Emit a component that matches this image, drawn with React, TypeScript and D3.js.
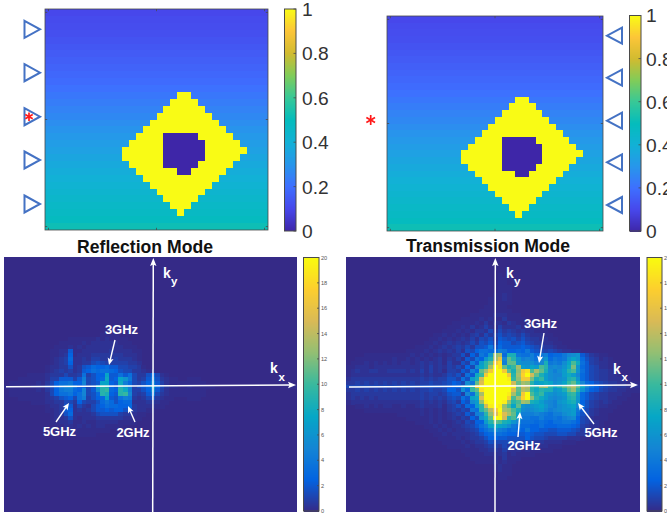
import React from 'react';
import * as d3 from 'd3';

// ---------- colour maps ----------
const parulaNew = ['#3e26a8','#4747eb','#3e6fff','#2796eb','#12b1d6','#04bcbc','#37c897','#80cc59','#d1bb30','#fcc538','#f9fb15'];
const parulaOld = ['#352a87','#0363e1','#1485d4','#06a7c6','#38b99e','#92bf73','#d9ba56','#fcce2e','#f9fb0e'];

// ---------- top maps (row values, 32 x 32 cells) ----------
const gradientRows = [.10,.11,.115,.12,.13,.14,.15,.16,.17,.18,.19,.205,.22,.235,.25,.265,.28,.295,.31,.325,.34,.355,.37,.385,.40,.415,.43,.445,.46,.475,.49,.52];
// [row, first column, column after last]
const diamondSpans = [[12,19,21],[13,18,22],[14,17,23],[15,16,24],[16,15,25],[17,14,26],[18,13,27],[19,12,28],[20,11,29],[21,11,28],[22,12,27],[23,13,26],[24,14,25],[25,15,24],[26,16,23],[27,17,22],[28,18,21],[29,19,20]];
const holeSpans = [[18,17,22],[19,17,23],[20,17,23],[21,17,23],[22,17,22],[23,19,21]];
const topTicks = [0,0.2,0.4,0.6,0.8,1];
const topTickLabels = ['0','0.2','0.4','0.6','0.8','1'];
const axisTicks = [1,16.5,32];
const markerRows = [1,2,3,4,5];

// ---------- bottom maps: 64 x 64 cells, one base-36 level per cell (0 = none, z = full scale) ----------
const reflectionFirstRow = 19;
const reflectionRows = [
'00000000 00000000 00000111 10000000',
'00000000 00000011 11112121 11100000',
'00000000 00001111 12122222 21110000',
'00000000 00011121 21222222 22111000',
'00000000 00112271 12222223 22221100',
'00000000 00112381 22233333 33222100',
'00000000 00123492 23244333 43332100',
'00000000 00123482 23356544 44433200',
'00000000 01223362 36798897 75544310',
'00000000 01234342 378a9aa9 86553321 10',
'00000111 12333533 4a4688h7 7a7a5336 95210000',
'00011111 12447774 7c5689i7 8hfb5347 b6321100 11100',
'01111112 1358aab8 8d567hh8 7ic95468 d7421111 11110',
'11111122 2458cdeb 7856hkj9 7jgc4679 h9532211 21111100 00000000 00000011',
'01111112 1358bcc9 8d57ekl9 8kic4468 e7421111 11110000',
'01111111 1258aab8 ad569kj8 7kld4347 b5321111 11110000',
'00011111 12346785 ac4689h7 6acb3235 63211000 11100',
'00000011 12233553 854469b9 68992223 32110000',
'00000000 01223672 53257 8a9 98893222 21100000',
'00000000 01123782 32357787 88663221 10000000',
'00000000 00123692 22235666 64332110',
'00000000 00122362 12223333 33221100',
'00000000 00112231 12112222 21111000',
'00000000 00011221 21212211 11000000',
'00000000 00001112 11111110',
'00000000 00000011 1111',
];
const transmissionFirstRow = 4;
const transmissionRows = [
'00000000 00000000 00000000 00000000 01',
'00000000 00000000 00000000 00000000 011',
'00000000 00000000 00000000 00000000 011',
'00000000 00000000 00000000 00000000 0111',
'00000000 00000000 00000000 00000000 0111',
'00000000 00000000 00000000 00000000 1121',
'00000000 00000000 00000000 00000001 1121',
'00000000 00000000 00000000 00000001 1111',
'00000000 00000000 00000000 00000011 11100000',
'00000000 00000000 00000000 00000111 11110000',
'00000000 00000000 00000000 00011111 22211100',
'00000000 00000000 00000000 01111212 11311110',
'00000000 00000000 00000001 11112131 22132111 1000',
'00000000 00000000 00000011 12131242 14222312 11100',
'00000000 00000000 00000111 21213325 25343232 21110',
'00000000 00000000 00011212 12134253 46454353 22211000',
'00000000 00000000 00112121 23242546 37656464 33221100',
'00000000 00000000 01121232 32353657 48775675 43322110',
'00000000 00000001 11212323 4353667b 69777787 65433211',
'00000000 00000111 12123232 42658aa9 9cb8898b 76545432 21100000',
'00001111 11111121 21212123 3628 5b9f pq9jjbaa c9bc899b def75321 1',
'00111111 11211212 12123132 42 75a8fj qudnkfcd cadf9bab fhf96431 21',
'01112121 21212212 32323142 264b7gkn vxcnnfee ecdjbcbe hmia7432 211',
'11222122 22222222 32423243 5385ehkq zxnjlqgf hgmkdedf iof97542 211',
'12322332 23333232 42423144 375c9nqv zzvnjpvx mqnjeceg kmfa7543 3211',
'12222222 22222222 32322354 63a7ilvz zzzvkqwz snjgeddg igd97543 3221',
'23333333 33333333 43434466 4a6gjszz zzzylpvv ojlgedef jkf97543 322211',
'33434343 43434343 44544568 75ebntzz zzzzsnqp kghihefh lnid9865 43322111',
'55555555 55555555 66666678 9dglvzzz zzzzynsr lkpqlikn prnida86 54333222',
'33434343 43434343 44544588 6e9lnxzz zzzztnrq kikjjfgj npkfb875 43322111',
'23333333 33333333 43443467 74dakqzz zzzyqmvz mjlgfefg klg97543 322211',
'23232323 33333333 43434356 5a7hitzz zzzwmqwz pkigedef jkf97543 32211',
'12222222 22222222 32323245 386egpyz zzypkmqp jigedcfg ijf86432 3211',
'00112121 22112112 32223134 6498gksy zypmhnfe fghfdcef ghd96432 211',
'00001111 11111111 21212134 354bakn r vzqpmjed efgecdef fgb75321 11',
'00000000 00011111 21212123 4375cdkp tytqnhcc cdcbacce fga65321 1',
'00000000 00000111 11212123 24386fin zzskmgbb aacaabac de854211 1',
'00000000 00000001 11212112 32548 8gk nmjifdaa a9a98aab ba854321',
'00000000 00000000 01121212 2345 7ach ihgeba99 8 8a88899 98743221',
'00000000 00000000 00112121 22345 8ac ecb9a98b 88 776677 7 6532 21',
'00000000 00000000 00011212 22234689 aa988778 76655566 55332 1',
'00000000 00000000 00001111 21233468 87766668 65543333 2221',
'00000000 00000000 00000111 12123346 55555545 43322221 11',
'00000000 00000000 00000011 11212234 43534323 22221110',
'00000000 00000000 00000000 01111223 32422212 11111',
'00000000 00000000 00000000 00111122 22312111 1',
'00000000 00000000 00000000 00011111 21311100',
'00000000 00000000 00000000 00001111 21211',
'00000000 00000000 00000000 00000000 1211',
'00000000 00000000 00000000 00000000 1211',
'00000000 00000000 00000000 00000000 0111',
'00000000 00000000 00000000 00000000 011',
];
const bottomTicks = [0,2,4,6,8,10,12,14,16,18,20];

// levels are an eye-read perceptual scale: 1 barely above background, z = 20
const levelScale = d3.scalePow().exponent(1.4).domain([0, 35]).range([0, 20]);
const decodeRows = (rows: string[]) => rows.map(r => Array.from(r.replace(/\s/g, '').padEnd(64, '0')).map(c => levelScale(parseInt(c, 36))));

const ramp = (stops: string[]) => d3.scaleLinear<string>()
  .domain(stops.map((_, i) => i / (stops.length - 1)))
  .range(stops)
  .clamp(true);
const colorNew = ramp(parulaNew);
const colorOld = ramp(parulaOld);

function TopMap({ x0, x1, y0, y1 }: any) {
  const band = d3.range(32);
  const x = d3.scaleBand<number>().domain(band).range([x0, x1]);
  const y = d3.scaleBand<number>().domain(band).range([y0, y1]);
  const xt = d3.scaleLinear().domain([0.5, 32.5]).range([x0, x1]);
  const yt = d3.scaleLinear().domain([0.5, 32.5]).range([y0, y1]);
  const span = (list: number[][], fill: string) => list.map(([r, a, b]) => (
    <rect key={fill + r} x={x(a)} y={y(r)} width={x.step() * (b - a)} height={y.step()} fill={fill} shapeRendering="crispEdges" />
  ));
  const stroke = '#4a4a4a';
  return (
    <g>
      {gradientRows.map((v, i) => <rect key={i} x={x0} y={y(i)} width={x1 - x0} height={y.step() + 0.3} fill={colorNew(v)} shapeRendering="crispEdges" />)}
      {span(diamondSpans, colorNew(1))}
      {span(holeSpans, colorNew(0))}
      <rect x={x0} y={y0} width={x1 - x0} height={y1 - y0} fill="none" stroke={stroke} strokeWidth={0.8} />
      {axisTicks.map(t => (
        <g key={t} stroke={stroke} strokeWidth={0.8}>
          <line x1={xt(t)} x2={xt(t)} y1={y0} y2={y0 + 2.2} />
          <line x1={xt(t)} x2={xt(t)} y1={y1} y2={y1 - 2.2} />
          <line y1={yt(t)} y2={yt(t)} x1={x0} x2={x0 + 2.2} />
          <line y1={yt(t)} y2={yt(t)} x1={x1} x2={x1 - 2.2} />
        </g>
      ))}
    </g>
  );
}

function ColorBar({ x0, x1, y0, y1, max, ticks, labels, color, fontSize, labelX, labelFill, tickLen }: any) {
  const y = d3.scaleLinear().domain([0, max]).range([y1, y0]);
  const steps = d3.range(0, Math.ceil(y1 - y0));
  return (
    <g>
      {steps.map(s => <rect key={s} x={x0} y={y0 + s} width={x1 - x0} height={1.2} fill={color(y.invert(y0 + s + 0.5) / max)} shapeRendering="crispEdges" />)}
      <rect x={x0} y={y0} width={x1 - x0} height={y1 - y0} fill="none" stroke="#4a4a4a" strokeWidth={1} />
      {ticks.map((t: number, i: number) => (
        <g key={t}>
          <line x1={x1} x2={x1 - tickLen} y1={y(t)} y2={y(t)} stroke="#4a4a4a" strokeWidth={0.8} />
          <text x={labelX} y={y(t)} dy="0.36em" fontSize={fontSize} fill={labelFill} fontFamily="Liberation Sans">{labels[i]}</text>
        </g>
      ))}
    </g>
  );
}

function HeatMap({ x0, x1, y0, y1, rows, firstRow }: any) {
  const band = d3.range(64);
  const x = d3.scaleBand<number>().domain(band).range([x0, x1]);
  const y = d3.scaleBand<number>().domain(band).range([y0, y1]);
  const m: number[][] = decodeRows(rows);
  return (
    <g shapeRendering="crispEdges">
      <rect x={x0} y={y0} width={x1 - x0} height={y1 - y0} fill={colorOld(0)} />
      {m.map((row, r) => row.map((v, c) => v > 0
        ? <rect key={r + '-' + c} x={x(c)} y={y(r + firstRow)} width={x.step() + 0.3} height={y.step() + 0.3} fill={colorOld(v / 20)} />
        : null))}
    </g>
  );
}

function Arrow({ a, b, w = 1.4, head = 7, half = 3 }: any) {
  const ang = Math.atan2(b[1] - a[1], b[0] - a[0]);
  const cx = Math.cos(ang), sy = Math.sin(ang);
  const bx = b[0] - head * cx, by = b[1] - head * sy;
  const pts = [[b[0], b[1]], [bx - half * sy, by + half * cx], [bx + 1.5 * cx, by + 1.5 * sy], [bx + half * sy, by - half * cx]];
  return (
    <g>
      <line x1={a[0]} y1={a[1]} x2={bx + 2 * cx} y2={by + 2 * sy} stroke="white" strokeWidth={w} />
      <polygon points={pts.map(p => p.join(',')).join(' ')} fill="white" />
    </g>
  );
}

const Label = ({ x, y, t, anchor = 'middle', size = 13 }: any) => (
  <text x={x} y={y} textAnchor={anchor} fontSize={size} fontWeight="bold" fill="white" fontFamily="Liberation Sans">{t}</text>
);

function Star({ x, y, r }: any) {
  return (
    <g stroke="#ff1a1a" strokeWidth={1.7}>
      {[90, 30, -30].map(a => {
        const dx = r * Math.cos(a * Math.PI / 180), dy = r * Math.sin(a * Math.PI / 180);
        return <line key={a} x1={x - dx} x2={x + dx} y1={y - dy} y2={y + dy} />;
      })}
    </g>
  );
}

const Tri = ({ x0, x1, y, h }: any) => (
  <polygon points={`${x0},${y - h / 2} ${x1},${y} ${x0},${y + h / 2}`} fill="none" stroke="#4472c4" strokeWidth={2} />
);

export default function App() {
  const leftY = d3.scaleOrdinal<number, number>().domain(markerRows).range([29.3, 72.7, 116.7, 160, 204]);
  const rightY = d3.scaleOrdinal<number, number>().domain(markerRows).range([35.7, 77.7, 120.7, 162.3, 205]);
  const titleProps = { fontWeight: 'bold', fontSize: 17.6, textAnchor: 'middle', fill: '#111', fontFamily: 'Liberation Sans' } as any;
  return (
    <svg width={667} height={514} viewBox="0 0 667 514" style={{ position: 'absolute', left: 0, top: 0, display: 'block', background: 'white', overflow: 'hidden' }}>
      <TopMap x0={45} x1={268} y0={9} y1={230} />
      <ColorBar x0={284.5} x1={296} y0={9} y1={231} max={1} ticks={topTicks} labels={topTickLabels} color={colorNew} fontSize={19.2} labelX={302} labelFill="#333" tickLen={2.5} />
      {markerRows.map(m => <Tri key={m} x0={24.5} x1={40} y={leftY(m)} h={17} />)}
      <Star x={29} y={116.7} r={4.3} />

      <TopMap x0={387} x1={603} y0={16} y1={231} />
      <ColorBar x0={629.5} x1={641} y0={15.5} y1={231} max={1} ticks={topTicks} labels={topTickLabels} color={colorNew} fontSize={19.2} labelX={646} labelFill="#333" tickLen={2.5} />
      {markerRows.map(m => <Tri key={m} x0={622} x1={607} y={rightY(m)} h={16} />)}
      <Star x={370.7} y={120} r={5} />

      <text x={145} y={253} {...titleProps}>Reflection Mode</text>
      <text x={488} y={252} {...titleProps}>Transmission Mode</text>

      <HeatMap x0={4} x1={297} y0={257} y1={512} rows={reflectionRows} firstRow={reflectionFirstRow} />
      <ColorBar x0={303.5} x1={319} y0={257.5} y1={511} max={20} ticks={bottomTicks} labels={bottomTicks.map(String)} color={colorOld} fontSize={5.6} labelX={321} labelFill="#555" tickLen={2} />
      <Arrow a={[6, 386.7]} b={[296, 385]} w={1.5} head={8} half={3.2} />
      <Arrow a={[152.7, 512]} b={[153.3, 258]} w={1.5} head={8} half={3.2} />
      <Label x={270} y={373} t="k" anchor="start" size={14} />
      <Label x={278.5} y={381} t="x" anchor="start" size={11.5} />
      <Label x={163} y={278} t="k" anchor="start" size={14} />
      <Label x={171} y={285} t="y" anchor="start" size={11.5} />
      <Label x={121.5} y={333.5} t="3GHz" />
      <Label x={59.5} y={436} t="5GHz" />
      <Label x={133} y={437} t="2GHz" />
      <Arrow a={[115, 340]} b={[109, 365]} />
      <Arrow a={[56, 422]} b={[69, 403]} />
      <Arrow a={[135, 422]} b={[128, 406]} />

      <HeatMap x0={346} x1={640} y0={257} y1={512} rows={transmissionRows} firstRow={transmissionFirstRow} />
      <ColorBar x0={647} x1={662} y0={257.5} y1={511} max={20} ticks={bottomTicks} labels={bottomTicks.map(String)} color={colorOld} fontSize={5.6} labelX={664} labelFill="#555" tickLen={2} />
      <Arrow a={[349, 387]} b={[638, 385]} w={1.5} head={8} half={3.2} />
      <Arrow a={[495, 512]} b={[495.3, 258]} w={1.5} head={8} half={3.2} />
      <Label x={613} y={374} t="k" anchor="start" size={14} />
      <Label x={621.5} y={381} t="x" anchor="start" size={11.5} />
      <Label x={506} y={278} t="k" anchor="start" size={14} />
      <Label x={514} y={285} t="y" anchor="start" size={11.5} />
      <Label x={540.5} y={328} t="3GHz" />
      <Label x={524} y={450} t="2GHz" />
      <Label x={601} y={437} t="5GHz" />
      <Arrow a={[544, 333]} b={[539, 363]} />
      <Arrow a={[518, 437]} b={[520, 412]} />
      <Arrow a={[594, 424]} b={[578, 403]} />
    </svg>
  );
}
